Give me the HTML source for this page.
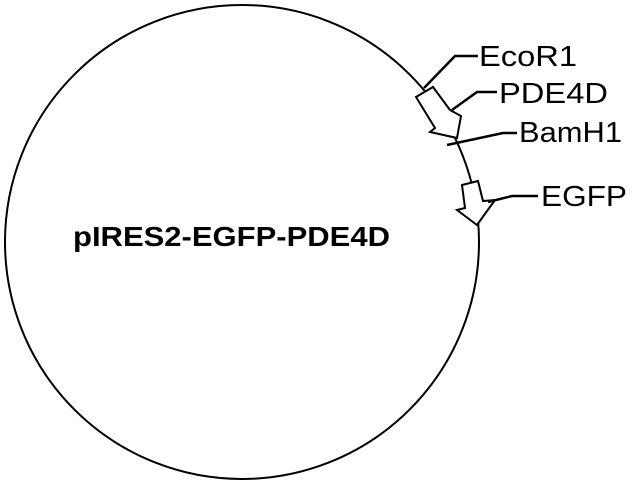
<!DOCTYPE html>
<html><head><style>html,body{margin:0;padding:0;background:#fff;}</style></head>
<body>
<svg width="632" height="480" viewBox="0 0 632 480" xmlns="http://www.w3.org/2000/svg" style="display:block">
<rect width="632" height="480" fill="#fff"/>
<circle cx="242" cy="242" r="237" fill="none" stroke="#000" stroke-width="2"/>
<g fill="#fff" stroke="#000" stroke-width="2" stroke-linejoin="miter">
<polygon points="416,97 433,87 450,110 461,116 457,138 430,132 435,128"/>
<polygon points="462,185 478,181 483,201 495,200 477,225 457,210 465,208"/>
</g>
<g fill="none" stroke="#000" stroke-width="2.5">
<polyline points="424,88 455,56 478,56"/>
<polyline points="452,110 477,92 497,92"/>
<polyline points="447,145 503,133 517,133"/>
<polyline points="488,202 512,196 538,196"/>
</g>
<g font-family="Liberation Sans, sans-serif" font-size="29" fill="#000">
<text x="479" y="66" textLength="98" lengthAdjust="spacingAndGlyphs">EcoR1</text>
<text x="499" y="103" textLength="109" lengthAdjust="spacingAndGlyphs">PDE4D</text>
<text x="519" y="142" textLength="103" lengthAdjust="spacingAndGlyphs">BamH1</text>
<text x="541" y="206" textLength="86" lengthAdjust="spacingAndGlyphs">EGFP</text>
<text x="73" y="246" font-weight="bold" font-size="28" textLength="317" lengthAdjust="spacingAndGlyphs">pIRES2-EGFP-PDE4D</text>
</g>
</svg>
</body></html>
